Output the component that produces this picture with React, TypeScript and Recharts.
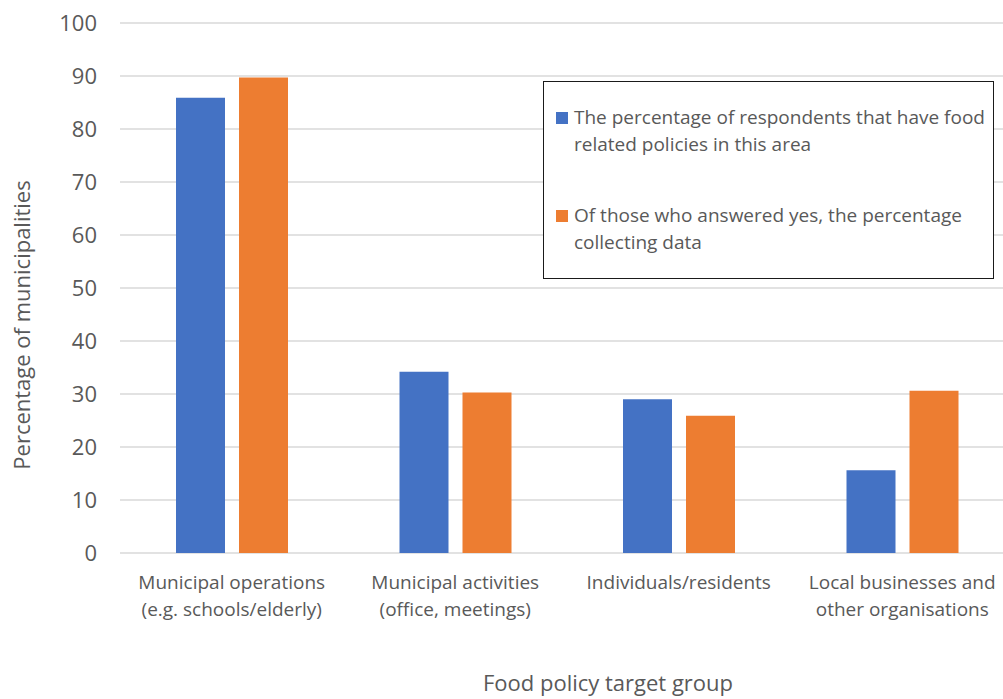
import { BarChart, Bar, XAxis, YAxis, CartesianGrid, Legend } from 'recharts';

const categories = [
  'Municipal operations\n(e.g. schools/elderly)',
  'Municipal activities\n(office, meetings)',
  'Individuals/residents',
  'Local businesses and\nother organisations',
];
const havePolicies = [85.9, 34.2, 29.0, 15.6];
const collectingData = [89.7, 30.3, 25.9, 30.6];
const yTicks = [0, 10, 20, 30, 40, 50, 60, 70, 80, 90, 100];

const seriesNames = {
  have: 'The percentage of respondents that have food\nrelated policies in this area',
  collect: 'Of those who answered yes, the percentage\ncollecting data',
};
const seriesOrder = ['have', 'collect'];

const data = categories.map((c, i) => ({
  name: c,
  have: havePolicies[i],
  collect: collectingData[i],
}));

const FONT = '"Open Sans", "Noto Sans", sans-serif';
const TEXT = '#595959';

function CategoryTick(props: any) {
  const { x, y, payload } = props;
  const lines: string[] = String(payload?.value ?? '').split('\n');
  return (
    <text x={x} y={y + 34} textAnchor="middle" fill={TEXT} fontSize={19} fontFamily={FONT}>
      {lines.map((l, i) => (
        <tspan key={i} x={x} dy={i === 0 ? 0 : 27}>
          {l}
        </tspan>
      ))}
    </text>
  );
}

function LegendBox(props: any) {
  const items = [...(props.payload || [])].sort(
    (a: any, b: any) => seriesOrder.indexOf(a.dataKey) - seriesOrder.indexOf(b.dataKey)
  );
  return (
    <div
      style={{
        boxSizing: 'border-box',
        width: '100%',
        height: '100%',
        border: '1px solid #1a1a1a',
        background: '#fff',
        paddingTop: 22,
        paddingLeft: 12,
        fontFamily: FONT,
        fontSize: 19,
        color: TEXT,
        lineHeight: '27px',
      }}
    >
      {items.map((entry: any, i: number) => (
        <div key={i} style={{ display: 'flex', alignItems: 'flex-start', marginBottom: i === 0 ? 44 : 0 }}>
          <span
            style={{
              display: 'inline-block',
              width: 12,
              height: 12,
              background: entry.color,
              marginTop: 8,
              marginRight: 6,
              flexShrink: 0,
            }}
          />
          <span style={{ whiteSpace: 'pre-line' }}>{entry.value}</span>
        </div>
      ))}
    </div>
  );
}

export default function App() {
  return (
    <div style={{ position: 'absolute', left: 0, top: 0, width: 1003, height: 699, overflow: 'hidden', background: '#fff' }}>
      <BarChart
        width={1020}
        height={699}
        data={data}
        margin={{ top: 23, right: 6, left: 0, bottom: 0 }}
        barCategoryGap="25%"
        barGap={14}
      >
        <CartesianGrid vertical={false} stroke="#d9d9d9" strokeWidth={1.5} />
        <XAxis
          dataKey="name"
          height={146}
          axisLine={false}
          tickLine={false}
          tickSize={0}
          interval={0}
          tick={<CategoryTick />}
          label={{
            content: () => (
              <text x={608} y={691} textAnchor="middle" fill={TEXT} fontSize={22} fontFamily={FONT}>
                Food policy target group
              </text>
            ),
          }}
        />
        <YAxis
          width={120}
          domain={[0, 100]}
          ticks={yTicks}
          interval={0}
          axisLine={false}
          tickLine={false}
          tickSize={0}
          tickMargin={23}
          tick={{ fill: TEXT, fontSize: 22, fontFamily: FONT }}
          label={{
            content: () => (
              <text
                x={30}
                y={325}
                transform="rotate(-90 30 325)"
                textAnchor="middle"
                fill={TEXT}
                fontSize={22}
                fontFamily={FONT}
              >
                Percentage of municipalities
              </text>
            ),
          }}
        />
        <Legend
          layout="vertical"
          align="center"
          verticalAlign="middle"
          content={<LegendBox />}
          wrapperStyle={{ position: 'absolute', left: 543, top: 81, width: 451, height: 198 }}
        />
        <Bar dataKey="have" name={seriesNames.have} fill="#4472C4" barSize={49} isAnimationActive={false} />
        <Bar dataKey="collect" name={seriesNames.collect} fill="#ED7D31" barSize={49} isAnimationActive={false} />
      </BarChart>
    </div>
  );
}
